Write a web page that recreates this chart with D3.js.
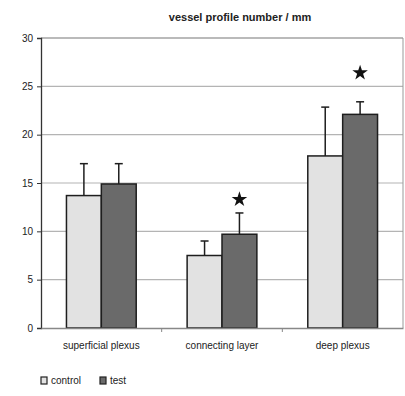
<!DOCTYPE html>
<html>
<head>
<meta charset="utf-8">
<script src="https://cdn.jsdelivr.net/npm/d3@7"></script>
<style>
  body { margin: 0; background: #fff; }
  text { font-family: "Liberation Sans", Arial, sans-serif; fill: #222; }
</style>
</head>
<body>
<div id="chart"></div>
<script>
'use strict';

var categories = ['superficial plexus', 'connecting layer', 'deep plexus'];
var seriesNames = ['control', 'test'];
var controlValues = [13.7, 7.5, 17.8];
var controlErrors = [3.3, 1.5, 5.05];
var testValues = [14.9, 9.7, 22.1];
var testErrors = [2.1, 2.2, 1.3];
// significance marks (test series), null = none
var starValues = [null, 13.3, 26.4];
var yTicks = [0, 5, 10, 15, 20, 25, 30];

var width = 405, height = 396;
var margin = { top: 38, right: 2, bottom: 68, left: 41 };
var colors = { control: '#e2e2e2', test: '#6a6a6a' };

var svg = d3.select('#chart')
  .append('svg')
  .attr('width', width)
  .attr('height', height);

var x0 = d3.scaleBand()
  .domain(categories)
  .range([margin.left, width - margin.right]);

var x1 = d3.scaleBand()
  .domain(seriesNames)
  .range([0, x0.bandwidth()])
  .paddingOuter(0.73);

var y = d3.scaleLinear()
  .domain([0, 30])
  .range([height - margin.bottom, margin.top]);

// gridlines
svg.append('g')
  .selectAll('line')
  .data(yTicks.filter(function(d) { return d > 0; }))
  .enter()
  .append('line')
  .attr('x1', margin.left)
  .attr('x2', width - margin.right)
  .attr('y1', function(d) { return y(d); })
  .attr('y2', function(d) { return y(d); })
  .attr('stroke', function(d) { return d === 30 ? '#777' : '#b4b4b4'; })
  .attr('stroke-width', 1.2);

// right border
svg.append('line')
  .attr('x1', width - margin.right).attr('x2', width - margin.right)
  .attr('y1', y(30)).attr('y2', y(0))
  .attr('stroke', '#999');

var rows = categories.map(function(c, i) {
  return [
    { cat: c, key: 'control', value: controlValues[i], err: controlErrors[i] },
    { cat: c, key: 'test', value: testValues[i], err: testErrors[i], star: starValues[i] }
  ];
});

var groups = svg.append('g')
  .selectAll('g')
  .data(rows)
  .enter()
  .append('g')
  .attr('transform', function(d, i) { return 'translate(' + x0(categories[i]) + ',0)'; });

var bars = groups.selectAll('g')
  .data(function(d) { return d; })
  .enter()
  .append('g');

bars.append('rect')
  .attr('x', function(d) { return x1(d.key); })
  .attr('width', x1.bandwidth())
  .attr('y', function(d) { return y(d.value); })
  .attr('height', function(d) { return y(0) - y(d.value); })
  .attr('fill', function(d) { return colors[d.key]; })
  .attr('stroke', '#1e1e1e')
  .attr('stroke-width', 1.5);

// error bars, upward only
bars.append('line')
  .attr('x1', function(d) { return x1(d.key) + x1.bandwidth() / 2; })
  .attr('x2', function(d) { return x1(d.key) + x1.bandwidth() / 2; })
  .attr('y1', function(d) { return y(d.value); })
  .attr('y2', function(d) { return y(d.value + d.err); })
  .attr('stroke', '#1e1e1e')
  .attr('stroke-width', 1.5);

bars.append('line')
  .attr('x1', function(d) { return x1(d.key) + x1.bandwidth() / 2 - 4; })
  .attr('x2', function(d) { return x1(d.key) + x1.bandwidth() / 2 + 4; })
  .attr('y1', function(d) { return y(d.value + d.err); })
  .attr('y2', function(d) { return y(d.value + d.err); })
  .attr('stroke', '#1e1e1e')
  .attr('stroke-width', 1.5);

bars.filter(function(d) { return d.star != null; })
  .append('path')
  .attr('d', d3.symbol().type(d3.symbolStar).size(75))
  .attr('transform', function(d) {
    return 'translate(' + (x1(d.key) + x1.bandwidth() / 2) + ',' + y(d.star) + ')';
  })
  .attr('fill', '#111');

// y axis
var yAxis = svg.append('g')
  .attr('transform', 'translate(' + margin.left + ',0)')
  .call(d3.axisLeft(y).tickValues(yTicks).tickSize(4).tickPadding(4));
yAxis.select('.domain').attr('stroke', '#333').attr('stroke-width', 1.3);
yAxis.selectAll('.tick line').attr('stroke', '#333');
yAxis.selectAll('text').style('font-size', '10px').attr('fill', '#222');

// x axis
var xAxis = svg.append('g')
  .attr('transform', 'translate(0,' + y(0) + ')')
  .call(d3.axisBottom(x0).tickSize(0).tickPadding(14));
xAxis.select('.domain').attr('stroke', '#888').attr('stroke-width', 1.3);
xAxis.selectAll('text').style('font-size', '10px').attr('fill', '#222');
xAxis.selectAll('.sep')
  .data(categories.slice(1))
  .enter()
  .append('line')
  .attr('x1', function(d) { return x0(d); })
  .attr('x2', function(d) { return x0(d); })
  .attr('y1', 0).attr('y2', 4)
  .attr('stroke', '#888');

// title
svg.append('text')
  .attr('x', 240)
  .attr('y', 21)
  .attr('text-anchor', 'middle')
  .style('font-size', '11px')
  .style('font-weight', 'bold')
  .text('vessel profile number / mm');

// legend
var legend = svg.append('g')
  .attr('transform', 'translate(41,377)');
var item = legend.selectAll('g')
  .data(seriesNames)
  .enter()
  .append('g')
  .attr('transform', function(d, i) { return 'translate(' + (i * 59) + ',0)'; });
item.append('rect')
  .attr('width', 6).attr('height', 7)
  .attr('fill', function(d) { return colors[d]; })
  .attr('stroke', '#222')
  .attr('stroke-width', 1.2);
item.append('text')
  .attr('x', 10)
  .attr('y', 7)
  .style('font-size', '10px')
  .text(function(d) { return d; });
</script>
</body>
</html>
